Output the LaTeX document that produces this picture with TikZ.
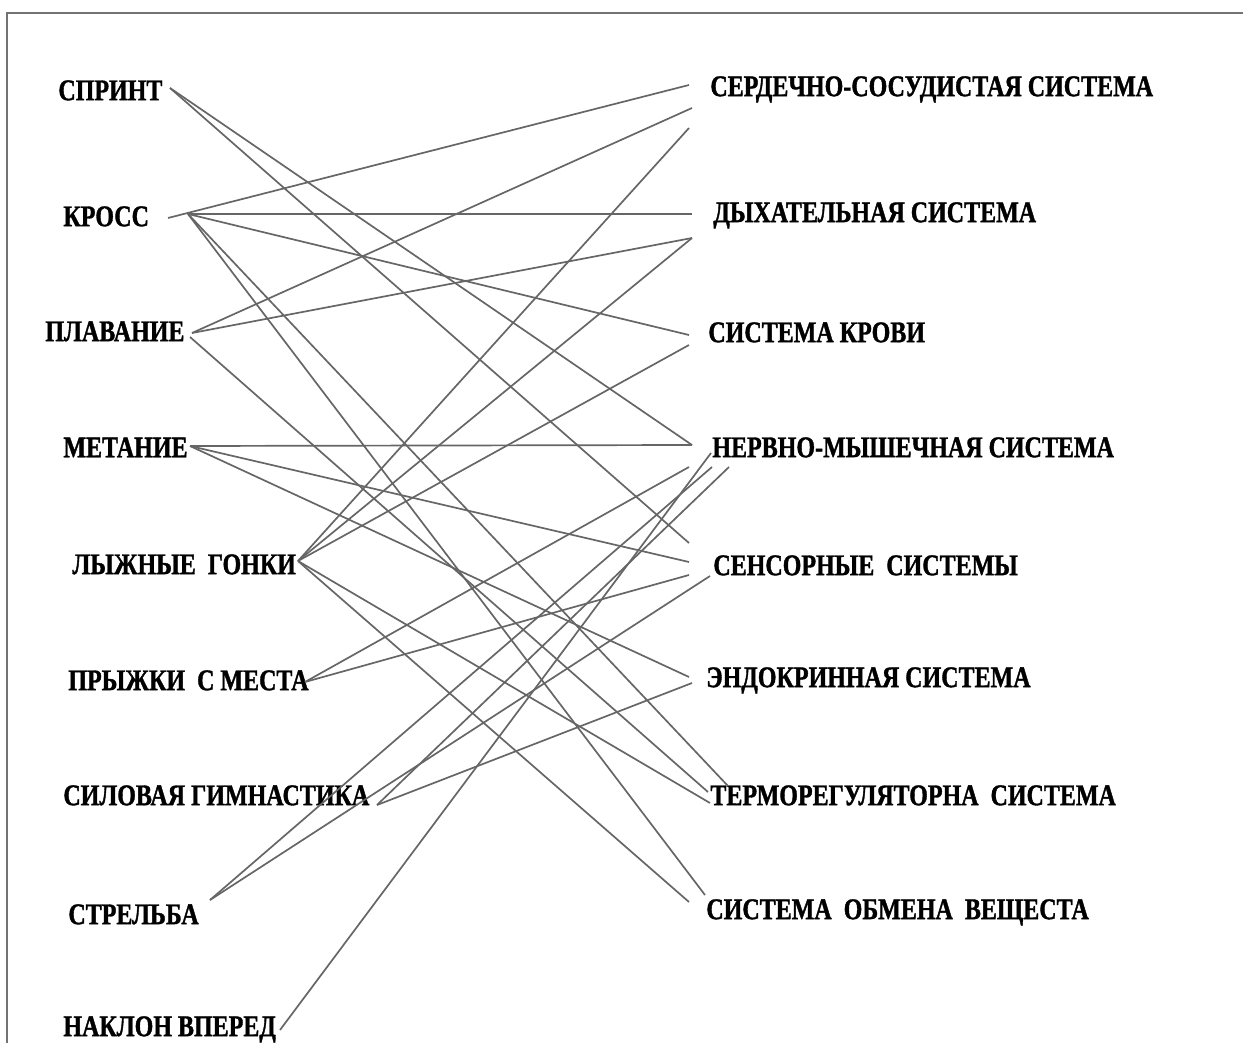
\documentclass[tikz,border=0pt]{standalone}
\usepackage{fontspec}
\setmainfont{Liberation Serif}[FakeStretch=0.8,BoldFeatures={FakeBold=1.2}]
\begin{document}
\begin{tikzpicture}[x=0.5pt,y=-0.5pt,
    lbl/.style={anchor=west,inner sep=0pt,yshift=-1.2pt,font=\fontsize{15}{15}\selectfont\bfseries},
    link/.style={black!60,line width=0.85pt}]
  \useasboundingbox (0,0) rectangle (1243,1043);
  \draw[black!55,line width=0.6pt] (7,1043) -- (7,13) -- (1243,13);

  \node[lbl] (sprint)   at (58,88)   {СПРИНТ};
  \node[lbl] (kross)    at (63,214)  {КРОСС};
  \node[lbl] (plavanie) at (45,329)  {ПЛАВАНИЕ};
  \node[lbl] (metanie)  at (63,445)  {МЕТАНИЕ};
  \node[lbl] (lyzhi)    at (72,562)  {ЛЫЖНЫЕ\ \ ГОНКИ};
  \node[lbl] (pryzhki)  at (68,678)  {ПРЫЖКИ\ \ С МЕСТА};
  \node[lbl] (silovaya) at (63,793)  {СИЛОВАЯ ГИМНАСТИКА};
  \node[lbl] (strelba)  at (68,912)  {СТРЕЛЬБА};
  \node[lbl] (naklon)   at (63,1027) {НАКЛОН ВПЕРЕД};

  \node[lbl] (cardio) at (710,87)  {СЕРДЕЧНО-СОСУДИСТАЯ СИСТЕМА};
  \node[lbl] (dykh)   at (713,213) {ДЫХАТЕЛЬНАЯ СИСТЕМА};
  \node[lbl] (krovi)  at (708,330) {СИСТЕМА КРОВИ};
  \node[lbl] (nervno) at (712,445) {НЕРВНО-МЫШЕЧНАЯ СИСТЕМА};
  \node[lbl] (sensor) at (713,563) {СЕНСОРНЫЕ\ \ СИСТЕМЫ};
  \node[lbl] (endokr) at (706,678) {ЭНДОКРИННАЯ СИСТЕМА};
  \node[lbl] (termo)  at (710,793) {ТЕРМОРЕГУЛЯТОРНА\ \ СИСТЕМА};
  \node[lbl] (obmen)  at (706,910) {СИСТЕМА\ \ ОБМЕНА\ \ ВЕЩЕСТА};

  \coordinate (sprint-o)   at (170,88);
  \coordinate (kross-o)    at (168,218);
  \coordinate (kross-p)    at (188,214);
  \coordinate (plavanie-o) at (192,333);
  \coordinate (plavanie-p) at (190,337);
  \coordinate (metanie-o)  at (190,446);
  \coordinate (lyzhi-o)    at (298,561);
  \coordinate (pryzhki-o)  at (305,682);
  \coordinate (silovaya-o) at (377,805);
  \coordinate (strelba-o)  at (210,900);
  \coordinate (naklon-o)   at (280,1030);

  \coordinate (cardio-a) at (689,85);
  \coordinate (cardio-b) at (692,108);
  \coordinate (cardio-c) at (689,128);
  \coordinate (dykh-a)   at (692,214);
  \coordinate (dykh-b)   at (692,238);
  \coordinate (krovi-a)  at (689,335);
  \coordinate (krovi-b)  at (689,345);
  \coordinate (nervno-a) at (692,445);
  \coordinate (nervno-b) at (689,467);
  \coordinate (nervno-c) at (711,453);
  \coordinate (nervno-d) at (712,467);
  \coordinate (nervno-e) at (729,467);
  \coordinate (sensor-a) at (689,543);
  \coordinate (sensor-b) at (689,562);
  \coordinate (sensor-c) at (689,575);
  \coordinate (sensor-d) at (710,576);
  \coordinate (endokr-a) at (689,677);
  \coordinate (endokr-b) at (692,683);
  \coordinate (termo-a)  at (728,786);
  \coordinate (termo-b)  at (708,792);
  \coordinate (termo-c)  at (710,803);
  \coordinate (obmen-a)  at (689,902);
  \coordinate (obmen-b)  at (705,895);

  \draw[link] (sprint-o) -- (nervno-a);
  \draw[link] (sprint-o) -- (sensor-a);
  \draw[link] (kross-o) -- (cardio-a);
  \draw[link] (kross-p) -- (dykh-a);
  \draw[link] (kross-p) -- (krovi-a);
  \draw[link] (kross-p) -- (termo-a);
  \draw[link] (kross-p) -- (obmen-b);
  \draw[link] (plavanie-o) -- (cardio-b);
  \draw[link] (plavanie-o) -- (dykh-b);
  \draw[link] (plavanie-p) -- (termo-b);
  \draw[link] (metanie-o) -- (nervno-a);
  \draw[link] (metanie-o) -- (sensor-b);
  \draw[link] (metanie-o) -- (endokr-a);
  \draw[link] (lyzhi-o) -- (cardio-c);
  \draw[link] (lyzhi-o) -- (dykh-b);
  \draw[link] (lyzhi-o) -- (krovi-b);
  \draw[link] (lyzhi-o) -- (termo-c);
  \draw[link] (lyzhi-o) -- (obmen-a);
  \draw[link] (pryzhki-o) -- (nervno-b);
  \draw[link] (pryzhki-o) -- (sensor-c);
  \draw[link] (silovaya-o) -- (nervno-e);
  \draw[link] (silovaya-o) -- (endokr-b);
  \draw[link] (strelba-o) -- (nervno-d);
  \draw[link] (strelba-o) -- (sensor-d);
  \draw[link] (naklon-o) -- (nervno-c);
\end{tikzpicture}
\end{document}
